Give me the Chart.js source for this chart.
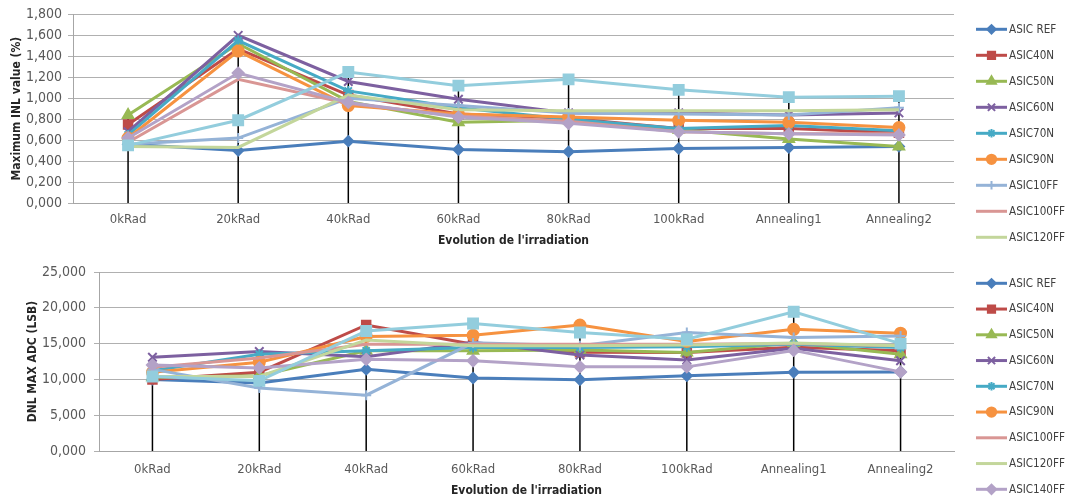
<!DOCTYPE html>
<html>
<head>
<meta charset="utf-8">
<script src="https://cdn.jsdelivr.net/npm/chart.js"></script>
<style>
  html, body { margin: 0; padding: 0; background: #fff; }
  #wrap { position: relative; width: 1067px; height: 503px; }
  #inlChart { position: absolute; left: 0; top: 0; }
  #dnlChart { position: absolute; left: 0; top: 250px; }
</style>
</head>
<body>
<div id="wrap">
  <canvas id="inlChart" width="1067" height="250"></canvas>
  <canvas id="dnlChart" width="1067" height="253"></canvas>
</div>
<script>
// categories (x axis)
const categories = ['0kRad', '20kRad', '40kRad', '60kRad', '80kRad', '100kRad', 'Annealing1', 'Annealing2'];
const seriesNames = ['ASIC REF', 'ASIC40N', 'ASIC50N', 'ASIC60N', 'ASIC70N', 'ASIC90N',
  'ASIC10FF', 'ASIC100FF', 'ASIC120FF', 'ASIC140FF', 'ASIC160FF'];

// Maximum INL value (%)
const inlRef   = [0.56, 0.50, 0.59, 0.51, 0.49, 0.52, 0.53, 0.54];
const inl40N   = [0.75, 1.47, 1.03, 0.85, 0.81, 0.71, 0.71, 0.67];
const inl50N   = [0.84, 1.52, 0.97, 0.77, 0.79, 0.70, 0.61, 0.54];
const inl60N   = [0.68, 1.60, 1.16, 0.99, 0.86, 0.86, 0.84, 0.86];
const inl70N   = [0.65, 1.55, 1.07, 0.91, 0.80, 0.71, 0.74, 0.69];
const inl90N   = [0.62, 1.45, 0.93, 0.85, 0.82, 0.79, 0.77, 0.72];
const inl10FF  = [0.56, 0.62, 1.00, 0.93, 0.86, 0.85, 0.84, 0.91];
const inl100FF = [0.58, 1.18, 0.95, 0.83, 0.78, 0.68, 0.66, 0.66];
const inl120FF = [0.54, 0.53, 1.03, 0.89, 0.88, 0.88, 0.88, 0.89];
const inl140FF = [0.62, 1.24, 0.96, 0.82, 0.76, 0.68, 0.66, 0.65];
const inl160FF = [0.55, 0.79, 1.25, 1.12, 1.18, 1.08, 1.01, 1.02];

// DNL MAX ADC (LSB)
const dnlRef   = [10.0, 9.5, 11.4, 10.2, 9.95, 10.5, 11.0, 11.05];
const dnl40N   = [10.0, 11.0, 17.6, 14.9, 13.8, 13.75, 14.5, 14.0];
const dnl50N   = [10.3, 10.5, 14.0, 14.0, 14.1, 13.75, 15.1, 13.5];
const dnl60N   = [13.1, 13.9, 13.15, 15.2, 13.4, 12.7, 14.35, 12.6];
const dnl70N   = [11.2, 13.5, 14.0, 14.45, 14.45, 14.55, 14.9, 14.45];
const dnl90N   = [11.0, 12.4, 16.0, 16.15, 17.6, 15.3, 17.0, 16.45];
const dnl10FF  = [11.4, 8.8, 7.8, 15.1, 14.7, 16.55, 15.85, 16.05];
const dnl100FF = [11.7, 13.0, 14.9, 14.9, 14.9, 14.9, 15.0, 14.7];
const dnl120FF = [10.4, 10.4, 15.5, 14.7, 14.7, 14.8, 15.1, 14.7];
const dnl140FF = [12.0, 11.6, 12.8, 12.6, 11.75, 11.75, 14.05, 11.05];
const dnl160FF = [10.4, 9.8, 16.75, 17.8, 16.55, 15.6, 19.45, 15.0];

// styles
const seriesColors = ['#4A7EBB', '#BE4B48', '#98B954', '#7D60A0', '#46AAC5', '#F69240',
  '#95B3D7', '#D99694', '#C3D69B', '#B3A2C7', '#93CDDD'];
const seriesMarkers = ['rectRot', 'rect', 'triangle', 'crossRot', 'star', 'circle',
  'cross', false, false, 'rectRot', 'rect'];
const markerSizes = [5, 6, 6, 6, 5, 5.5, 5, 0, 0, 5.5, 7];

const fontFamily = '"Liberation Sans Narrow", "DejaVu Sans Condensed", "Liberation Sans", sans-serif';
Chart.defaults.font.family = fontFamily;

function buildDatasets(seriesData) {
  return seriesData.map((data, i) => ({
    label: seriesNames[i],
    data: data,
    borderColor: seriesColors[i],
    backgroundColor: seriesColors[i],
    pointBackgroundColor: seriesColors[i],
    pointBorderColor: seriesColors[i],
    pointStyle: seriesMarkers[i],
    pointRadius: markerSizes[i],
    pointBorderWidth: 2,
    borderWidth: 3,
    tension: 0,
    fill: false,
    order: seriesData.length - i
  }));
}

// black lines dropping from the highest point of each category to the axis
const dropLines = {
  id: 'dropLines',
  beforeDatasetsDraw(chart) {
    const xs = chart.scales.x, ys = chart.scales.y, ctx = chart.ctx;
    ctx.save();
    ctx.strokeStyle = '#000';
    ctx.lineWidth = 1.5;
    categories.forEach((c, i) => {
      const top = Math.max(...chart.data.datasets.map(ds => ds.data[i]));
      const x = xs.getPixelForValue(i);
      ctx.beginPath();
      ctx.moveTo(x, ys.getPixelForValue(top));
      ctx.lineTo(x, ys.bottom);
      ctx.stroke();
    });
    ctx.restore();
  }
};

// legend on the right, line with the marker in the middle
const sideLegend = {
  id: 'sideLegend',
  afterDraw(chart, args, opts) {
    const ctx = chart.ctx;
    ctx.save();
    ctx.textBaseline = 'middle';
    ctx.textAlign = 'left';
    ctx.font = '13px ' + fontFamily;
    // squeeze the text so the longest name fits like the original narrow font
    const squeeze = Math.min(1, 56 / ctx.measureText('ASIC100FF').width);
    opts.items.forEach((dsIndex, k) => {
      const ds = chart.data.datasets[dsIndex];
      const y = opts.top + k * opts.step;
      ctx.strokeStyle = ds.borderColor;
      ctx.lineWidth = 3;
      ctx.beginPath();
      ctx.moveTo(opts.x0, y);
      ctx.lineTo(opts.x1, y);
      ctx.stroke();
      if (ds.pointStyle && ds.pointRadius > 0) {
        ctx.fillStyle = ds.borderColor;
        ctx.lineWidth = 2;
        Chart.helpers.drawPoint(ctx, {
          pointStyle: ds.pointStyle, radius: ds.pointRadius * 0.85, rotation: 0, borderWidth: 2
        }, (opts.x0 + opts.x1) / 2, y);
      }
      ctx.save();
      ctx.translate(opts.textX, y);
      ctx.scale(squeeze, 1);
      ctx.fillStyle = '#404040';
      ctx.fillText(ds.label, 0, 0);
      ctx.restore();
    });
    ctx.restore();
  }
};

const fmt = v => v.toFixed(3).replace('.', ',');

function makeChart(id, seriesData, cfg) {
  return new Chart(document.getElementById(id), {
    type: 'line',
    data: { labels: categories, datasets: buildDatasets(seriesData) },
    plugins: [dropLines, sideLegend],
    options: {
      responsive: false,
      animation: false,
      events: [],
      layout: { padding: { top: cfg.padTop, right: 113, left: 0, bottom: 0 } },
      plugins: {
        legend: { display: false },
        tooltip: { enabled: false },
        sideLegend: cfg.legend
      },
      scales: {
        x: {
          offset: true,
          grid: { display: false, drawTicks: false },
          border: { color: '#a6a6a6', width: 1 },
          ticks: { color: '#595959', font: { size: 13 }, padding: cfg.xTickPad },
          title: {
            display: true, text: "Evolution de l'irradiation", color: '#262626',
            font: { size: 12, weight: 'bold' }, padding: { top: 0, bottom: cfg.xTitlePad }
          },
          afterFit(s) { s.height = cfg.xHeight; }
        },
        y: {
          min: 0, max: cfg.yMax,
          ticks: { stepSize: cfg.yStep, color: '#595959', font: { size: 14 }, padding: cfg.yTickPad, callback: fmt },
          grid: { color: '#b0b0b0', lineWidth: 1, tickLength: 5 },
          border: { color: '#a6a6a6', width: 1 },
          title: {
            display: true, text: cfg.yTitle, color: '#262626',
            font: { size: 12, weight: 'bold' }, padding: { top: cfg.yTitlePad, bottom: 0 }
          },
          afterFit(s) { s.width = cfg.yWidth; }
        }
      }
    }
  });
}

makeChart('inlChart',
  [inlRef, inl40N, inl50N, inl60N, inl70N, inl90N, inl10FF, inl100FF, inl120FF, inl140FF, inl160FF],
  {
    padTop: 14, xHeight: 47, xTickPad: 9, xTitlePad: 2,
    yMax: 1.8, yStep: 0.2, yTickPad: 6, yWidth: 73, yTitlePad: 10,
    yTitle: 'Maximum INL value (%)',
    legend: { items: [0, 1, 2, 3, 4, 5, 6, 7, 8], top: 29.3, step: 26, x0: 976, x1: 1007, textX: 1009 }
  });

makeChart('dnlChart',
  [dnlRef, dnl40N, dnl50N, dnl60N, dnl70N, dnl90N, dnl10FF, dnl100FF, dnl120FF, dnl140FF, dnl160FF],
  {
    padTop: 22, xHeight: 52, xTickPad: 11, xTitlePad: 5,
    yMax: 25, yStep: 5, yTickPad: 8, yWidth: 99, yTitlePad: 26,
    yTitle: 'DNL MAX ADC (LSB)',
    legend: { items: [0, 1, 2, 3, 4, 5, 7, 8, 9], top: 33.3, step: 25.75, x0: 976, x1: 1007, textX: 1009 }
  });
</script>
</body>
</html>
